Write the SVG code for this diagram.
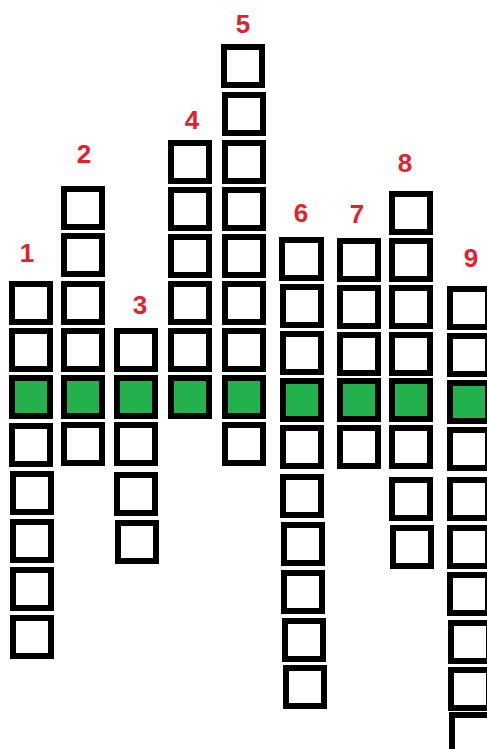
<svg xmlns="http://www.w3.org/2000/svg" width="487" height="749" viewBox="0 0 487 749">
<style>
.b{fill:#fff;stroke:#000;stroke-width:6}
.g{fill:#22b14c;stroke:#000;stroke-width:6}
.l{font-family:"Liberation Sans",Arial,sans-serif;font-weight:bold;font-size:26px;fill:#e3202b;text-anchor:middle}
</style>
<rect width="487" height="749" fill="#fff"/>
<g id="col1">
<text class="l" x="27" y="262">1</text>
<rect class="b" x="12" y="284" width="38" height="38"/>
<rect class="b" x="12" y="331" width="38" height="38"/>
<rect class="g" x="12" y="378" width="38" height="38"/>
<rect class="b" x="12" y="426" width="38" height="38"/>
<rect class="b" x="13" y="474" width="38" height="38"/>
<rect class="b" x="13" y="522" width="38" height="38"/>
<rect class="b" x="13" y="570" width="38" height="38"/>
<rect class="b" x="13" y="618" width="38" height="38"/>
</g>
<g id="col2">
<text class="l" x="84" y="163">2</text>
<rect class="b" x="64" y="189" width="38" height="38"/>
<rect class="b" x="64" y="236" width="38" height="38"/>
<rect class="b" x="64" y="284" width="38" height="38"/>
<rect class="b" x="64" y="331" width="38" height="38"/>
<rect class="g" x="64" y="378" width="38" height="38"/>
<rect class="b" x="64" y="425" width="38" height="38"/>
</g>
<g id="col3">
<text class="l" x="140" y="314">3</text>
<rect class="b" x="117" y="331" width="38" height="38"/>
<rect class="g" x="117" y="378" width="38" height="38"/>
<rect class="b" x="117" y="425" width="38" height="38"/>
<rect class="b" x="117" y="475" width="38" height="38"/>
<rect class="b" x="118" y="523" width="38" height="38"/>
</g>
<g id="col4">
<text class="l" x="192" y="129">4</text>
<rect class="b" x="171" y="143" width="38" height="38"/>
<rect class="b" x="171" y="190" width="38" height="38"/>
<rect class="b" x="171" y="237" width="38" height="38"/>
<rect class="b" x="171" y="284" width="38" height="38"/>
<rect class="b" x="171" y="331" width="38" height="38"/>
<rect class="g" x="171" y="378" width="38" height="38"/>
</g>
<g id="col5">
<text class="l" x="243" y="33">5</text>
<rect class="b" x="224" y="47" width="38" height="38"/>
<rect class="b" x="225" y="95" width="38" height="38"/>
<rect class="b" x="225" y="143" width="38" height="38"/>
<rect class="b" x="225" y="190" width="38" height="38"/>
<rect class="b" x="225" y="237" width="38" height="38"/>
<rect class="b" x="225" y="284" width="38" height="38"/>
<rect class="b" x="225" y="331" width="38" height="38"/>
<rect class="g" x="225" y="378" width="38" height="38"/>
<rect class="b" x="225" y="425" width="38" height="38"/>
</g>
<g id="col6">
<text class="l" x="301" y="222">6</text>
<rect class="b" x="282" y="240" width="39" height="38"/>
<rect class="b" x="283" y="287" width="38" height="38"/>
<rect class="b" x="283" y="334" width="38" height="38"/>
<rect class="g" x="283" y="381" width="38" height="38"/>
<rect class="b" x="283" y="428" width="38" height="38"/>
<rect class="b" x="283" y="477" width="38" height="38"/>
<rect class="b" x="284" y="525" width="38" height="38"/>
<rect class="b" x="284" y="573" width="38" height="38"/>
<rect class="b" x="285" y="621" width="38" height="38"/>
<rect class="b" x="286" y="668" width="38" height="38"/>
</g>
<g id="col7">
<text class="l" x="357" y="223">7</text>
<rect class="b" x="340" y="241" width="38" height="38"/>
<rect class="b" x="340" y="288" width="38" height="38"/>
<rect class="b" x="340" y="335" width="38" height="38"/>
<rect class="g" x="340" y="381" width="38" height="38"/>
<rect class="b" x="340" y="428" width="38" height="38"/>
</g>
<g id="col8">
<text class="l" x="405" y="172">8</text>
<rect class="b" x="392" y="194" width="38" height="38"/>
<rect class="b" x="392" y="241" width="38" height="38"/>
<rect class="b" x="392" y="288" width="38" height="38"/>
<rect class="b" x="392" y="335" width="38" height="38"/>
<rect class="g" x="392" y="381" width="38" height="38"/>
<rect class="b" x="392" y="428" width="38" height="38"/>
<rect class="b" x="392" y="480" width="38" height="38"/>
<rect class="b" x="393" y="528" width="38" height="38"/>
</g>
<g id="col9">
<text class="l" x="471" y="267">9</text>
<rect class="b" x="450" y="289" width="38" height="38"/>
<rect class="b" x="450" y="336" width="38" height="38"/>
<rect class="g" x="450" y="383" width="38" height="38"/>
<rect class="b" x="450" y="430" width="38" height="38"/>
<rect class="b" x="450" y="480" width="38" height="38"/>
<rect class="b" x="450" y="528" width="38" height="38"/>
<rect class="b" x="450" y="575" width="38" height="38"/>
<rect class="b" x="451" y="623" width="38" height="38"/>
<rect class="b" x="451" y="670" width="38" height="38"/>
<rect class="b" x="452" y="715" width="38" height="38"/>
</g>
</svg>
